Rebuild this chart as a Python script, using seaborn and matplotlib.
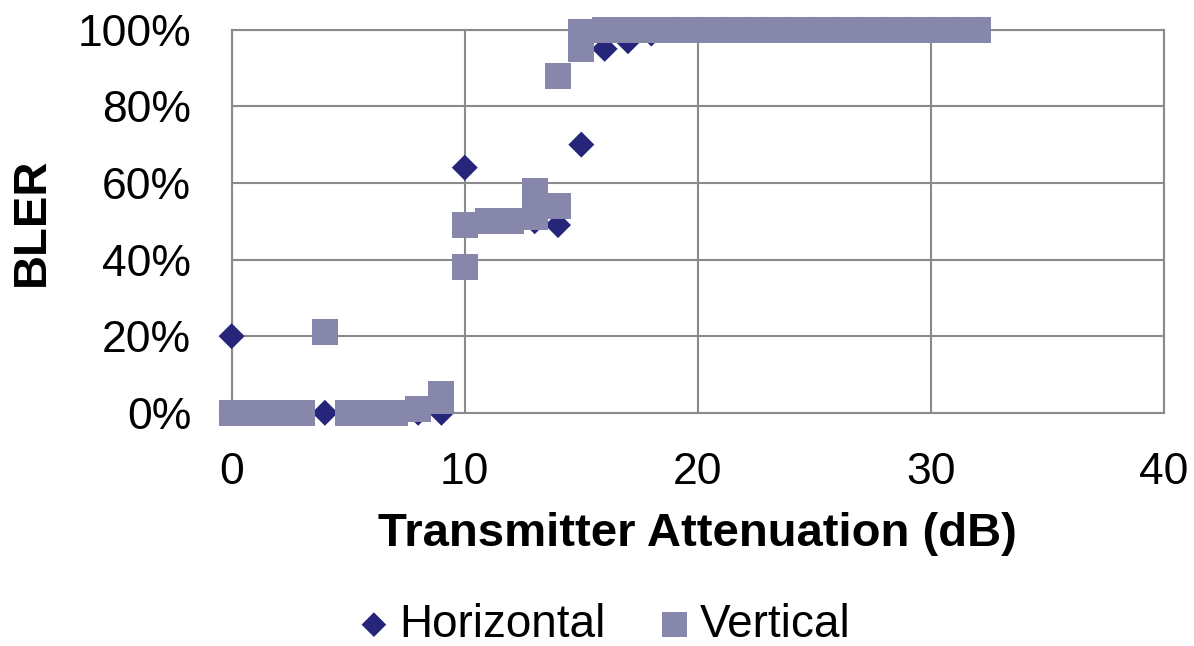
import numpy as np
import pandas as pd
import matplotlib
matplotlib.use("Agg")
import matplotlib.pyplot as plt
import seaborn as sns

# Data
horiz_x = [0, 0, 1, 2, 3, 4, 5, 6, 7, 8, 9, 10, 11, 12, 13, 14, 15, 16,
           17, 18, 19, 20, 21, 22, 23, 24, 25, 26, 27, 28, 29, 30, 31, 32]
horiz_bler = [0.20, 0.0, 0.0, 0.0, 0.0, 0.0, 0.0, 0.0, 0.0, 0.0, 0.0, 0.64, 0.50, 0.50, 0.50, 0.49, 0.70, 0.95,
              0.97, 0.99, 1.0, 1.0, 1.0, 1.0, 1.0, 1.0, 1.0, 1.0, 1.0, 1.0, 1.0, 1.0, 1.0, 1.0]

vert_x = [0, 1, 2, 3, 4, 5, 6, 7, 8, 9, 9, 10, 10, 11, 12, 13, 13, 14, 14, 15, 15,
          16, 17, 18, 19, 20, 21, 22, 23, 24, 25, 26, 27, 28, 29, 30, 31, 32]
vert_bler = [0.0, 0.0, 0.0, 0.0, 0.21, 0.0, 0.0, 0.0, 0.01, 0.03, 0.05, 0.49, 0.38, 0.50, 0.50, 0.58, 0.51, 0.54, 0.88,
             0.95, 0.995, 1.0, 1.0, 1.0, 1.0, 1.0, 1.0, 1.0, 1.0, 1.0, 1.0, 1.0, 1.0, 1.0, 1.0, 1.0, 1.0, 1.0]

series_names = ["Horizontal", "Vertical"]
x_ticks = [0, 10, 20, 30, 40]
y_ticks = [0, 0.2, 0.4, 0.6, 0.8, 1.0]

sns.set_style("white")
plt.rcParams['font.family'] = ['Liberation Sans', 'DejaVu Sans']
plt.rcParams['text.color'] = 'black'
plt.rcParams['axes.labelcolor'] = 'black'

df_h = pd.DataFrame({"att": horiz_x, "bler": horiz_bler})
df_v = pd.DataFrame({"att": vert_x, "bler": vert_bler})

fig = plt.figure(figsize=(11.94, 6.46), dpi=100)
ax = fig.add_axes([0.194, 0.361, 0.781, 0.593])

sns.scatterplot(data=df_h, x="att", y="bler", ax=ax, marker="D", s=175,
                color="#25257A", edgecolor="none", linewidth=0, label=series_names[0],
                clip_on=False, zorder=3)
sns.scatterplot(data=df_v, x="att", y="bler", ax=ax, marker="s", s=350,
                color="#8787AB", edgecolor="none", linewidth=0, label=series_names[1],
                clip_on=False, zorder=4)

ax.set_xlim(0, 40)
ax.set_ylim(0, 1)
ax.set_xticks(x_ticks)
ax.set_yticks(y_ticks)
ax.set_yticklabels([f"{int(round(v * 100))}%" for v in y_ticks])
ax.grid(True, color="#8a8a8a", linewidth=1.5)
ax.set_axisbelow(True)
for sp in ax.spines.values():
    sp.set_color("#8a8a8a")
    sp.set_linewidth(1.5)
ax.tick_params(axis="both", labelsize=32, color="#8a8a8a", labelcolor="black",
               width=1.5, length=10)
ax.tick_params(axis="y", pad=19)
ax.tick_params(axis="x", pad=18)

ax.set_xlabel("Transmitter Attenuation (dB)", fontsize=34, fontweight="bold", labelpad=14)
ax.set_ylabel("BLER", fontsize=34, fontweight="bold", labelpad=17)

ax.get_legend().remove()
handles, labels = ax.get_legend_handles_labels()
fig.legend(handles, labels, loc="center", bbox_to_anchor=(0.503, 0.033), ncol=2, frameon=False,
           fontsize=33, handletextpad=0.05, columnspacing=1.0, markerscale=0.95,
           handlelength=1.0)

fig.savefig("out.png", dpi=100)
